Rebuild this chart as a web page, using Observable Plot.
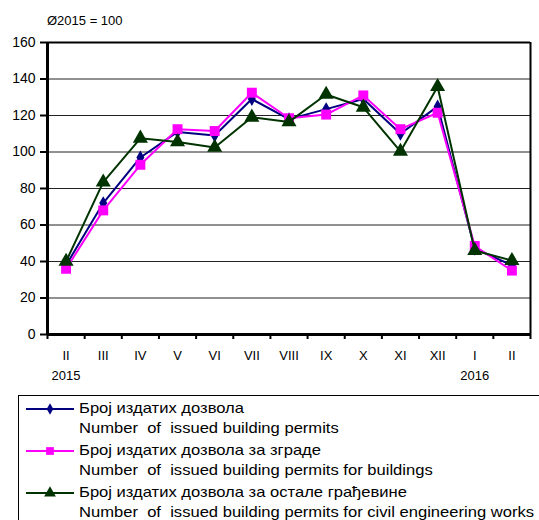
<!DOCTYPE html>
<html>
<head>
<meta charset="utf-8">
<script src="https://cdn.jsdelivr.net/npm/d3@7"></script>
<script src="https://cdn.jsdelivr.net/npm/@observablehq/plot@0.6"></script>
<style>
  body { margin: 0; background: #fff; font-family: "Liberation Sans", Arial, sans-serif; }
  #wrap { position: relative; width: 539px; height: 520px; overflow: hidden; }
  #sub { position: absolute; left: 47px; top: 13px; font-size: 13px; color: #000; }
  #legend { position: absolute; left: 18px; top: 395px; width: 560px; height: 130px; border: 1px solid #000; box-sizing: border-box; }
  .row { position: absolute; left: 0; height: 21px; font-size: 14.5px; line-height: 21px; white-space: pre; }
  .row svg { position: absolute; left: 6px; top: 0; }
  .row span { position: absolute; left: 60px; display: inline-block; transform-origin: 0 50%; }
</style>
</head>
<body>
<div id="wrap">
  <div id="chart"></div>
  <div id="sub">Ø2015 = 100</div>
  <div id="legend"></div>
</div>
<script>
const months = ["II","III","IV","V","VI","VII","VIII","IX","X","XI","XII","I","II"];
const years = [{i: 0, t: "2015"}, {i: 11, t: "2016"}];
const total = [38, 72, 97, 111, 109, 129, 118, 123.5, 129, 110, 125, 47, 38];
const buildings = [36, 68, 93, 112.5, 111.5, 132.5, 118.5, 120.5, 131, 112.5, 121.5, 48.5, 35];
const civil = [40, 83.5, 107.5, 105.5, 102.5, 119, 116.5, 131.5, 124.5, 100.3, 135.8, 46, 40.5];
const yTicks = [0, 20, 40, 60, 80, 100, 120, 140, 160];

const seriesDefs = [
  {key: "total", values: total, color: "#000080", symbol: "diamond", r: 4.2,
   sr: "Број издатих дозвола", en: "Number  of  issued building permits"},
  {key: "buildings", values: buildings, color: "#FF00FF", symbol: "square", r: 5.6,
   sr: "Број издатих дозвола за зграде", en: "Number  of  issued building permits for buildings"},
  {key: "civil", values: civil, color: "#003300", symbol: "triangle", r: 5.6,
   sr: "Број издатих дозвола за остале грађевине", en: "Number  of  issued building permits for civil engineering works"}
];

const marks = [
  Plot.ruleY([20, 40, 60, 80, 100, 120, 140], {stroke: "#222", strokeWidth: 1}),
  Plot.ruleY([160], {stroke: "#000", strokeWidth: 2}),
  Plot.ruleX([13], {stroke: "#000", strokeWidth: 2}),
  Plot.axisY({ticks: yTicks, tickSize: 7, tickPadding: 5, fontSize: 14, label: null, strokeWidth: 2, fill: "#000"}),
  Plot.axisX({ticks: d3.range(0, 14), tickSize: 5, tickFormat: () => "", label: null, strokeWidth: 2}),
  Plot.axisX({ticks: d3.range(0, 13).map(i => i + 0.5), tickSize: 0, tickPadding: 16, fontSize: 13,
    tickFormat: d => months[Math.floor(d)], label: null, fill: "#000"}),
  Plot.text(years, {x: d => d.i + 0.5, frameAnchor: "bottom", dy: 45, text: "t", fontSize: 13, fill: "#000"}),
  Plot.ruleX([0], {stroke: "#000", strokeWidth: 3}),
  Plot.ruleY([0], {stroke: "#000", strokeWidth: 3})
];

for (const s of seriesDefs) {
  const data = s.values.map((v, i) => ({x: i + 0.5, y: v}));
  marks.push(Plot.line(data, {x: "x", y: "y", stroke: s.color, strokeWidth: 2}));
  marks.push(Plot.dot(data, {x: "x", y: "y", symbol: s.symbol, r: s.r, fill: s.color, stroke: "none"}));
}

const chart = Plot.plot({
  width: 539,
  height: 395,
  marginLeft: 47,
  marginRight: 9,
  marginTop: 42,
  marginBottom: 61,
  style: {fontFamily: "Liberation Sans, Arial, sans-serif", color: "#000", background: "#fff"},
  x: {domain: [0, 13]},
  y: {domain: [0, 160]},
  marks
});
document.getElementById("chart").appendChild(chart);

const legend = document.getElementById("legend");
const rowTops = [2, 22, 44, 64, 86, 106];
const spans = [];
seriesDefs.forEach((s, k) => {
  const r1 = document.createElement("div");
  r1.className = "row";
  r1.style.top = rowTops[k * 2] + "px";
  const sym = d3.symbol(s.symbol === "diamond" ? d3.symbolDiamond : s.symbol === "square" ? d3.symbolSquare : d3.symbolTriangle,
    s.symbol === "diamond" ? 38 : 60)();
  r1.innerHTML = `<svg width="50" height="21"><line x1="1" x2="49" y1="11" y2="11" stroke="${s.color}" stroke-width="2"/>` +
    `<path d="${sym}" transform="translate(25,11)" fill="${s.color}"/></svg><span>${s.sr}</span>`;
  legend.appendChild(r1);
  const r2 = document.createElement("div");
  r2.className = "row";
  r2.style.top = rowTops[k * 2 + 1] + "px";
  r2.innerHTML = `<span>${s.en}</span>`;
  legend.appendChild(r2);
  spans.push(...legend.querySelectorAll("span"));
});
const allSpans = legend.querySelectorAll("span");
let maxW = 0;
allSpans.forEach(sp => { maxW = Math.max(maxW, sp.getBoundingClientRect().width); });
const k = maxW > 0 ? 455 / maxW : 1;
allSpans.forEach(sp => { sp.style.transform = `scaleX(${k})`; });
</script>
</body>
</html>
